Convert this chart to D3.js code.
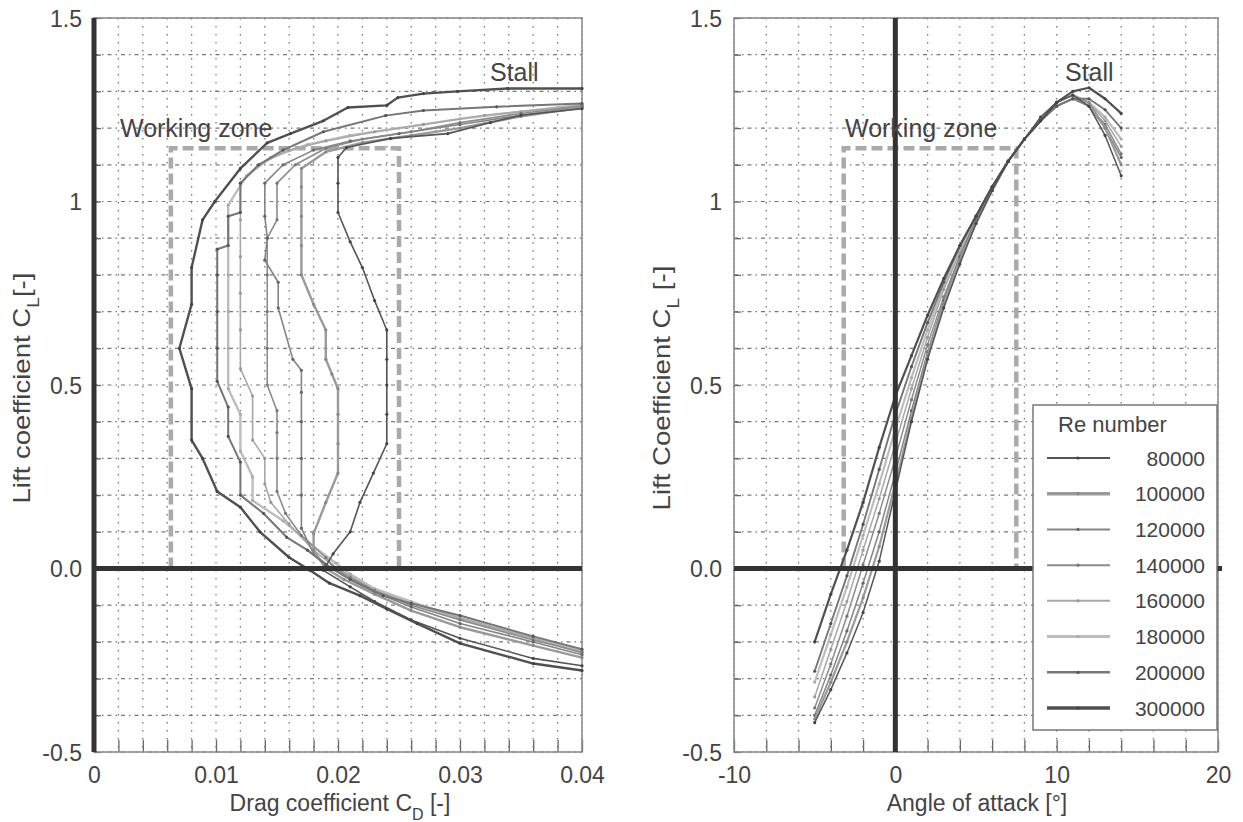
<!DOCTYPE html>
<html>
<head>
<meta charset="utf-8">
<script src="https://cdn.jsdelivr.net/npm/d3@7"></script>
<style>
body { margin: 0; background: #fff; }
text { font-family: "Liberation Sans", Arial, sans-serif; fill: #444; }
</style>
</head>
<body>
<div id="chart"></div>
<script>
// ---- data ----
var reNumbers = ["80000", "100000", "120000", "140000", "160000", "180000", "200000", "300000"];

// drag polar, [CD, CL] pairs, bottom to top
var polar80k = [[0.040,-0.265],[0.036,-0.245],[0.030,-0.19],[0.026,-0.14],[0.023,-0.09],[0.021,-0.05],[0.0188,-0.005],[0.0196,0.04],[0.021,0.10],[0.0218,0.18],[0.0229,0.26],[0.024,0.34],[0.024,0.42],[0.024,0.50],[0.024,0.57],[0.024,0.65],[0.023,0.73],[0.022,0.82],[0.021,0.89],[0.020,0.97],[0.020,1.05],[0.020,1.12],[0.0207,1.147],[0.0243,1.172],[0.029,1.185],[0.0325,1.215],[0.035,1.235],[0.040,1.253]];
var polar100k = [[0.040,-0.243],[0.036,-0.21],[0.030,-0.16],[0.026,-0.115],[0.023,-0.07],[0.0205,-0.03],[0.019,0.0],[0.018,0.05],[0.018,0.095],[0.019,0.18],[0.020,0.26],[0.020,0.34],[0.020,0.42],[0.020,0.49],[0.0195,0.53],[0.019,0.57],[0.019,0.65],[0.018,0.72],[0.017,0.80],[0.017,0.88],[0.017,0.96],[0.017,1.04],[0.017,1.09],[0.019,1.135],[0.022,1.16],[0.026,1.18],[0.030,1.20],[0.035,1.232],[0.040,1.256]];
var polar120k = [[0.040,-0.235],[0.036,-0.20],[0.030,-0.15],[0.026,-0.105],[0.023,-0.065],[0.021,-0.03],[0.0195,0.0],[0.018,0.04],[0.017,0.11],[0.017,0.20],[0.017,0.30],[0.017,0.40],[0.017,0.48],[0.017,0.54],[0.0163,0.57],[0.0151,0.71],[0.0151,0.78],[0.014,0.84],[0.0142,0.90],[0.014,0.96],[0.014,1.05],[0.0155,1.10],[0.018,1.14],[0.021,1.165],[0.025,1.185],[0.030,1.21],[0.035,1.235],[0.040,1.258]];
var polar140k = [[0.040,-0.228],[0.036,-0.195],[0.030,-0.14],[0.026,-0.10],[0.023,-0.06],[0.021,-0.025],[0.0198,0.0],[0.019,0.03],[0.017,0.09],[0.0157,0.15],[0.015,0.21],[0.015,0.30],[0.015,0.37],[0.015,0.43],[0.0142,0.50],[0.0142,0.60],[0.0142,0.70],[0.0142,0.80],[0.0142,0.90],[0.015,0.95],[0.015,1.05],[0.0165,1.10],[0.019,1.145],[0.022,1.17],[0.026,1.19],[0.030,1.215],[0.035,1.24],[0.040,1.26]];
var polar160k = [[0.040,-0.23],[0.036,-0.19],[0.030,-0.135],[0.026,-0.095],[0.023,-0.06],[0.021,-0.02],[0.0195,0.01],[0.018,0.05],[0.016,0.12],[0.0145,0.18],[0.014,0.23],[0.014,0.30],[0.013,0.35],[0.013,0.47],[0.012,0.545],[0.012,0.65],[0.012,0.75],[0.012,0.85],[0.012,0.95],[0.012,1.05],[0.0135,1.10],[0.016,1.14],[0.019,1.165],[0.023,1.19],[0.027,1.21],[0.032,1.235],[0.040,1.262]];
var polar180k = [[0.040,-0.225],[0.036,-0.19],[0.030,-0.135],[0.026,-0.09],[0.023,-0.055],[0.021,-0.015],[0.0198,0.015],[0.018,0.06],[0.0155,0.13],[0.013,0.185],[0.013,0.25],[0.012,0.32],[0.012,0.42],[0.011,0.49],[0.011,0.60],[0.011,0.70],[0.011,0.80],[0.011,0.90],[0.011,0.99],[0.0125,1.07],[0.0145,1.12],[0.0175,1.155],[0.021,1.18],[0.025,1.20],[0.030,1.225],[0.035,1.245],[0.040,1.264]];
var polar200k = [[0.040,-0.22],[0.036,-0.185],[0.030,-0.128],[0.026,-0.095],[0.0237,-0.074],[0.021,-0.03],[0.019,0.01],[0.0175,0.05],[0.0158,0.085],[0.0139,0.15],[0.012,0.20],[0.012,0.29],[0.011,0.36],[0.011,0.44],[0.0101,0.51],[0.0101,0.60],[0.0101,0.70],[0.0101,0.80],[0.0101,0.87],[0.011,0.88],[0.011,0.96],[0.012,0.97],[0.012,1.05],[0.0135,1.10],[0.0155,1.14],[0.0188,1.19],[0.0239,1.234],[0.027,1.248],[0.033,1.258],[0.040,1.267]];
var polar300k = [[0.040,-0.278],[0.036,-0.259],[0.030,-0.204],[0.0265,-0.15],[0.024,-0.11],[0.0218,-0.074],[0.0193,-0.04],[0.0177,-0.005],[0.016,0.03],[0.0136,0.10],[0.012,0.167],[0.0101,0.21],[0.0089,0.30],[0.008,0.35],[0.008,0.49],[0.007,0.60],[0.008,0.72],[0.008,0.82],[0.0089,0.95],[0.0099,1.0],[0.012,1.09],[0.0142,1.16],[0.0161,1.185],[0.0188,1.22],[0.0208,1.256],[0.024,1.262],[0.0249,1.283],[0.027,1.294],[0.0298,1.30],[0.0339,1.308],[0.040,1.308]];

// lift curves, CL at each angle of attack
var alphaDeg = [-5,-4,-3,-2,-1,0,1,2,3,4,5,6,7,8,9,10,11,12,13,14];
var lift80k  = [-0.42,-0.33,-0.23,-0.12,0.02,0.21,0.40,0.57,0.71,0.83,0.94,1.03,1.11,1.17,1.23,1.27,1.29,1.26,1.18,1.07];
var lift100k = [-0.41,-0.31,-0.20,-0.08,0.06,0.23,0.41,0.58,0.72,0.84,0.94,1.03,1.11,1.17,1.22,1.27,1.29,1.27,1.20,1.10];
var lift120k = [-0.40,-0.29,-0.17,-0.04,0.10,0.26,0.43,0.59,0.73,0.85,0.95,1.03,1.11,1.17,1.22,1.26,1.28,1.26,1.20,1.12];
var lift140k = [-0.38,-0.26,-0.13,0.01,0.15,0.30,0.46,0.61,0.74,0.85,0.95,1.03,1.11,1.17,1.22,1.26,1.28,1.26,1.21,1.13];
var lift160k = [-0.35,-0.22,-0.09,0.05,0.19,0.34,0.49,0.63,0.76,0.86,0.95,1.03,1.11,1.17,1.22,1.26,1.28,1.27,1.22,1.15];
var lift180k = [-0.31,-0.18,-0.05,0.09,0.23,0.38,0.52,0.65,0.77,0.87,0.96,1.04,1.11,1.17,1.22,1.26,1.28,1.27,1.23,1.17];
var lift200k = [-0.28,-0.15,-0.02,0.12,0.27,0.42,0.55,0.67,0.78,0.88,0.96,1.04,1.11,1.17,1.22,1.26,1.28,1.28,1.25,1.20];
var lift300k = [-0.20,-0.07,0.05,0.18,0.33,0.47,0.58,0.69,0.79,0.88,0.96,1.04,1.11,1.17,1.22,1.27,1.30,1.31,1.28,1.24];

var polars = [polar80k, polar100k, polar120k, polar140k, polar160k, polar180k, polar200k, polar300k];
var lifts = [lift80k, lift100k, lift120k, lift140k, lift160k, lift180k, lift200k, lift300k];

// working zone box edges
var zoneCd = [0.0063, 0.025];
var zoneAlpha = [-3.2, 7.5];
var zoneCl = [0, 1.145];

// ticks
var clTicks = [-0.5, 0, 0.5, 1, 1.5];
var clTickLabels = ["-0.5", "0.0", "0.5", "1", "1.5"];
var cdTicks = [0, 0.01, 0.02, 0.03, 0.04];
var cdTickLabels = ["0", "0.01", "0.02", "0.03", "0.04"];
var alphaTicks = [-10, 0, 10, 20];

// ---- styles ----
var seriesColor = ["#555", "#9a9a9a", "#858585", "#8c8c8c", "#a8a8a8", "#bdbdbd", "#767676", "#505050"];
var seriesWidth = [2, 3.5, 2, 2, 2, 3, 2.5, 3.5];
var markColor = ["#444", "#888", "#666", "#777", "#999", "#aaa", "#555", "#444"];

var svg = d3.select("#chart").append("svg")
  .attr("width", 1243)
  .attr("height", 822);

var plotTop = 18, plotBottom = 752;
var yScale = d3.scaleLinear().domain([-0.5, 1.5]).range([plotBottom, plotTop]);
var xLeft = d3.scaleLinear().domain([0, 0.04]).range([94, 582]);
var xRight = d3.scaleLinear().domain([-10, 20]).range([734, 1218]);

var clGrid = d3.range(-5, 16).map(d => d / 10);

function drawPanel(x, xGrid) {
  var g = svg.append("g");
  // grid
  g.selectAll(".vg").data(xGrid).enter().append("line")
    .attr("x1", d => x(d)).attr("x2", d => x(d))
    .attr("y1", plotTop).attr("y2", plotBottom)
    .attr("stroke", "#777").attr("stroke-width", 1.3)
    .attr("stroke-dasharray", "1.5,6.5");
  g.selectAll(".hg").data(clGrid).enter().append("line")
    .attr("x1", x.range()[0]).attr("x2", x.range()[1])
    .attr("y1", d => yScale(d)).attr("y2", d => yScale(d))
    .attr("stroke", "#777").attr("stroke-width", 1.2)
    .attr("stroke-dasharray", "4,4,1.5,4");
  // inner ticks
  g.append("g")
    .attr("transform", `translate(0, ${plotBottom})`)
    .call(d3.axisBottom(x).tickValues(xGrid).tickSize(-12).tickFormat(""))
    .call(a => a.select(".domain").remove())
    .selectAll("line").attr("stroke", "#666").attr("stroke-width", 1.3);
  g.append("g")
    .attr("transform", `translate(${x.range()[0]}, 0)`)
    .call(d3.axisLeft(yScale).tickValues(clGrid).tickSize(-7).tickFormat(""))
    .call(a => a.select(".domain").remove())
    .selectAll("line").attr("stroke", "#666").attr("stroke-width", 1.3);
  // frame
  g.append("rect")
    .attr("x", x.range()[0]).attr("y", plotTop)
    .attr("width", x.range()[1] - x.range()[0]).attr("height", plotBottom - plotTop)
    .attr("fill", "none").attr("stroke", "#888").attr("stroke-width", 1.5);
  return g;
}

var gL = drawPanel(xLeft, d3.range(0, 21).map(d => d * 0.002));
var gR = drawPanel(xRight, d3.range(-10, 21, 2));

function zoneBox(g, x, xs) {
  g.append("path")
    .attr("d", d3.line()([[x(xs[0]), yScale(zoneCl[0])], [x(xs[0]), yScale(zoneCl[1])],
                           [x(xs[1]), yScale(zoneCl[1])], [x(xs[1]), yScale(zoneCl[0])]]))
    .attr("fill", "none").attr("stroke", "#aaa").attr("stroke-width", 4.5)
    .attr("stroke-dasharray", "11,5");
}
zoneBox(gL, xLeft, zoneCd);
zoneBox(gR, xRight, zoneAlpha);

// polar curves, light ones drawn first
var order = [5, 4, 3, 2, 1, 6, 0, 7];
var lineL = d3.line().x(d => xLeft(d[0])).y(d => yScale(d[1]));
order.forEach(function(i) {
  gL.append("path").datum(polars[i])
    .attr("d", lineL)
    .attr("fill", "none").attr("stroke", seriesColor[i]).attr("stroke-width", Math.min(seriesWidth[i] * 0.8, 2.4))
    .attr("stroke-linejoin", "round");
  gL.selectAll(".m" + i).data(polars[i]).enter().append("circle")
    .attr("cx", d => xLeft(d[0])).attr("cy", d => yScale(d[1]))
    .attr("r", 1.6).attr("fill", markColor[i]);
});

// lift curves
var lineR = d3.line().x((d, j) => xRight(alphaDeg[j])).y(d => yScale(d));
order.forEach(function(i) {
  gR.append("path").datum(lifts[i])
    .attr("d", lineR)
    .attr("fill", "none").attr("stroke", seriesColor[i]).attr("stroke-width", Math.min(seriesWidth[i] * 0.75, 2.2))
    .attr("stroke-linejoin", "round");
  gR.selectAll(".m" + i).data(lifts[i]).enter().append("circle")
    .attr("cx", (d, j) => xRight(alphaDeg[j])).attr("cy", d => yScale(d))
    .attr("r", 1.6).attr("fill", markColor[i]);
});

// thick zero lines
gL.append("line").attr("x1", xLeft(0)).attr("x2", xLeft(0)).attr("y1", plotTop).attr("y2", plotBottom)
  .attr("stroke", "#333").attr("stroke-width", 5);
gL.append("line").attr("x1", xLeft(0)).attr("x2", xLeft(0.04)).attr("y1", yScale(0)).attr("y2", yScale(0))
  .attr("stroke", "#333").attr("stroke-width", 5);
gR.append("line").attr("x1", xRight(0)).attr("x2", xRight(0)).attr("y1", plotTop).attr("y2", plotBottom)
  .attr("stroke", "#333").attr("stroke-width", 5);
gR.append("line").attr("x1", xRight(-10)).attr("x2", xRight(20) + 4).attr("y1", yScale(0)).attr("y2", yScale(0))
  .attr("stroke", "#333").attr("stroke-width", 5);

// tick labels
function labels(g, x, xt, xl) {
  g.append("g")
    .attr("transform", `translate(${x.range()[0] - 9}, 0)`)
    .call(d3.axisLeft(yScale).tickValues(clTicks).tickSize(0).tickFormat((d, i) => clTickLabels[i]))
    .call(a => a.select(".domain").remove())
    .selectAll("text").attr("font-size", 23).attr("fill", "#444").attr("dy", "0.36em");
  g.append("g")
    .attr("transform", `translate(0, ${plotBottom + 10})`)
    .call(d3.axisBottom(x).tickValues(xt).tickSize(0).tickFormat((d, i) => xl[i]))
    .call(a => a.select(".domain").remove())
    .selectAll("text").attr("font-size", 23).attr("fill", "#444").attr("dy", "0.8em");
}
labels(gL, xLeft, cdTicks, cdTickLabels);
labels(gR, xRight, alphaTicks, alphaTicks.map(String));

// axis titles
function title(x, y, rot, sx, parts) {
  var t = svg.append("text")
    .attr("transform", `translate(${x}, ${y}) rotate(${rot}) scale(${sx}, 1)`)
    .attr("text-anchor", "middle").attr("font-size", 23);
  parts.forEach(function(p) {
    var s = t.append("tspan").text(p[0]);
    if (p[1]) s.attr("baseline-shift", "sub").attr("font-size", 16);
  });
}
title(340, 811, 0, 1, [["Drag coefficient C"], ["D", true], [" [-]"]]);
title(977, 811, 0, 1, [["Angle of attack [°]"]]);
title(30, 388, -90, 1.2, [["Lift coefficient C"], ["L", true], ["[-]"]]);
title(670, 388, -90, 1.2, [["Lift Coefficient C"], ["L", true], [" [-]"]]);

// annotations
svg.append("text").attr("x", 490).attr("y", 81).attr("font-size", 25).text("Stall");
svg.append("text").attr("x", 120).attr("y", 137).attr("font-size", 25).text("Working zone");
svg.append("text").attr("x", 1065).attr("y", 81).attr("font-size", 25).text("Stall");
svg.append("text").attr("x", 845).attr("y", 137).attr("font-size", 25).text("Working zone");

// legend
var lg = svg.append("g");
lg.append("rect").attr("x", 1033).attr("y", 405).attr("width", 184).attr("height", 325)
  .attr("fill", "#fff").attr("stroke", "#777").attr("stroke-width", 1.5);
lg.append("text").attr("x", 1058).attr("y", 432).attr("font-size", 22).text("Re number");
var ly = d3.scalePoint().domain(reNumbers).range([458, 708]);
reNumbers.forEach(function(r, i) {
  lg.append("line").attr("x1", 1047).attr("x2", 1110).attr("y1", ly(r)).attr("y2", ly(r))
    .attr("stroke", seriesColor[i]).attr("stroke-width", seriesWidth[i]);
  lg.append("circle").attr("cx", 1078).attr("cy", ly(r)).attr("r", 1.6).attr("fill", markColor[i]);
  lg.append("text").attr("x", 1205).attr("y", ly(r)).attr("dy", "0.36em")
    .attr("text-anchor", "end").attr("font-size", 21).text(r);
});
</script>
</body>
</html>
